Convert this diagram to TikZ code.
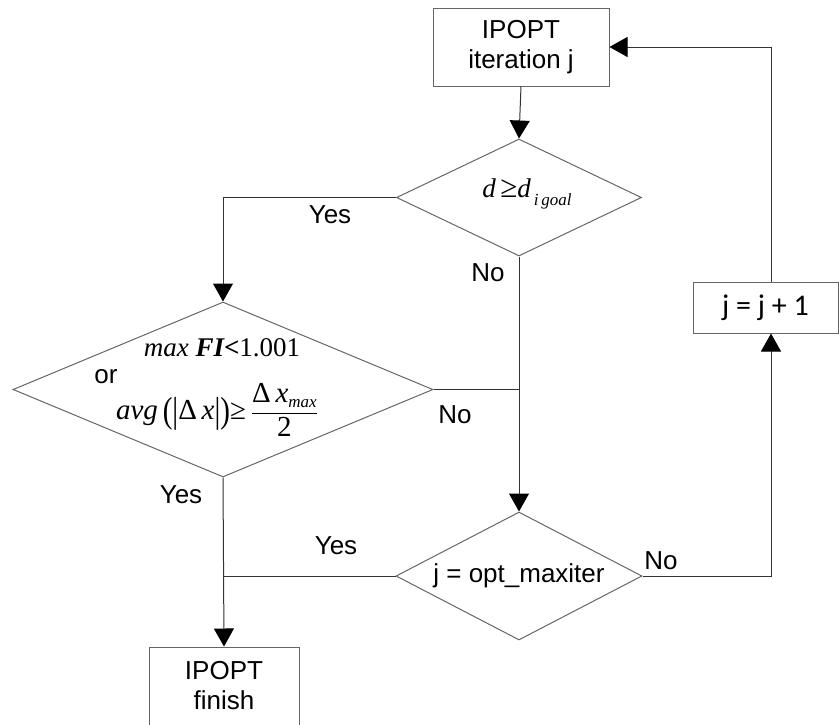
\documentclass[tikz,border=0pt]{standalone}
\usepackage{fontspec}
\usepackage{graphicx}
\setmainfont{Liberation Sans}
\newfontfamily\serfont{Liberation Serif}
\newfontfamily\carfont{Carlito}
\usetikzlibrary{arrows.meta,shapes.geometric}

% tall delimiters for the serif formula
\newcommand{\tallglyph}[1]{\raisebox{-0.12em}{\scalebox{1}[1.25]{#1}}}

\begin{document}
\begin{tikzpicture}[x=1pt,y=-1pt,
  every node/.style={font=\fontsize{26}{30}\selectfont},
  box/.style={rectangle,draw=black!60,line width=1pt,fill=white,align=center,inner sep=0pt},
  dia/.style={diamond,draw=black!60,line width=1pt,inner sep=0pt},
  conn/.style={line width=1pt,black!80},
  arr/.style={conn,-{Triangle[length=18pt,width=20pt,color=black]}},
  lbl/.style={inner sep=0pt},
  mth/.style={inner sep=0pt,font=\serfont\fontsize{27}{30}\selectfont}]
\useasboundingbox (0,0) rectangle (839,724);
\clip (0,0) rectangle (839,724);

% process boxes
\node[box,minimum width=176pt,minimum height=78pt] (top) at (521,47) {IPOPT\\iteration j};
\node[box,minimum width=150pt,minimum height=78pt] (fin) at (224,686) {IPOPT\\finish};
\node[box,minimum width=145pt,minimum height=51pt,font=\carfont\fontsize{30}{30}\selectfont] (inc) at (765.5,307.5) {j = j + 1};

% decision diamonds
\node[dia,minimum width=245pt,minimum height=117pt] (d1) at (519,197.5) {};
\node[dia,minimum width=420pt,minimum height=175pt] (d2) at (223,389.5) {};
\node[dia,minimum width=246pt,minimum height=128pt] (d3) at (519,576) {};

% decision texts
\node[mth,font=\serfont\fontsize{27}{30}\selectfont] (t1) at (527,194)
  {\itshape d\,\upshape\scalebox{1.15}{≥}\itshape d\raisebox{-0.6ex}{\fontsize{17}{17}\selectfont\,i\,goal}};
\node[mth] (t2a) at (222,348)
  {\itshape max \bfseries FI\upshape<\mdseries 1.001};
\node[lbl] (t2b) at (106,377) {or};
\node[mth,font=\serfont\fontsize{29}{32}\selectfont] (t2c) at (217,410)
  {\itshape avg\,\upshape\tallglyph{(}\tallglyph{|}Δ\,\itshape x\upshape\tallglyph{|}\tallglyph{)}≥\,$\displaystyle\frac{\hbox{\serfont Δ\,\itshape x\raisebox{-0.4ex}{\fontsize{17}{17}\selectfont max}}}{\hbox{\serfont 2}}$};
\node[lbl] (t3) at (d3.center) {j = opt\_maxiter};

% loop column on the right
\coordinate (loop) at (771,0);

% connectors
\draw[arr] (top.south) -- (d1.north);
\draw[arr] (d1.west) -| (d2.north);
\draw[arr] (d1.south) -- (d3.north);
\draw[conn] (d2.east) -- (d2.east -| d1.south);
\draw[arr] (d2.south) -- (fin.north);
\draw[conn] (d3.west) -- (d3.west -| d2.south);
\draw[arr] (d3.east) -| (loop |- inc.south);
\draw[arr] (loop |- inc.north) |- (top.east);

% branch labels
\node[lbl] (y1) at (330,215) {Yes};
\node[lbl] (n1) at (488,273) {No};
\node[lbl] (n2) at (455,415) {No};
\node[lbl] (y2) at (181,495) {Yes};
\node[lbl] (y3) at (336,546) {Yes};
\node[lbl] (n3) at (661,561) {No};
\end{tikzpicture}
\end{document}
